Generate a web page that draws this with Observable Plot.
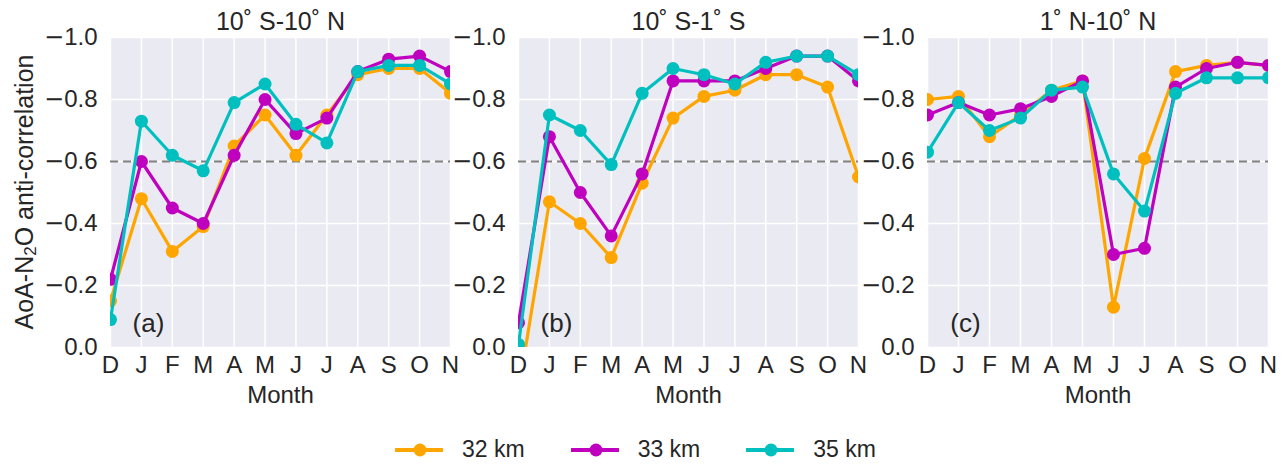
<!DOCTYPE html>
<html><head><meta charset="utf-8">
<script src="https://cdn.jsdelivr.net/npm/d3@7"></script>
<script src="https://cdn.jsdelivr.net/npm/@observablehq/plot@0.6"></script>
<style>
body{margin:0;background:#fff;font-family:"Liberation Sans",Arial,sans-serif;color:#262626}
#wrap{position:relative;width:1288px;height:464px;overflow:hidden}
.panel{position:absolute;top:0}
#legend{position:absolute;top:436px;left:395px;display:flex;align-items:center;font-size:23px;color:#262626}
#legend .item{display:flex;align-items:center;margin-right:46px}
#legend svg{margin-right:19px}
</style></head><body><div id="wrap"><div id="legend"></div></div>
<script>
const months = ["D","J","F","M","A","M","J","J","A","S","O","N"];
const seriesNames = ["32 km","33 km","35 km"];
const seriesColors = ["#FFA500","#BF00BF","#00BFBF"];
const titles = ["10˚ S-10˚ N","10˚ S-1˚ S","1˚ N-10˚ N"];
const panelTags = ["(a)","(b)","(c)"];
const yTicks = [0,-0.2,-0.4,-0.6,-0.8,-1.0];
const threshold = -0.6;

// panel (a) 10S-10N
const a32 = [-0.15,-0.48,-0.31,-0.39,-0.65,-0.75,-0.62,-0.75,-0.88,-0.90,-0.90,-0.82];
const a33 = [-0.22,-0.60,-0.45,-0.40,-0.62,-0.80,-0.69,-0.74,-0.89,-0.93,-0.94,-0.89];
const a35 = [-0.09,-0.73,-0.62,-0.57,-0.79,-0.85,-0.72,-0.66,-0.89,-0.91,-0.91,-0.85];
// panel (b) 10S-1S
const b32 = [0.14,-0.47,-0.40,-0.29,-0.53,-0.74,-0.81,-0.83,-0.88,-0.88,-0.84,-0.55];
const b33 = [-0.08,-0.68,-0.50,-0.36,-0.56,-0.86,-0.86,-0.86,-0.90,-0.94,-0.94,-0.86];
const b35 = [-0.01,-0.75,-0.70,-0.59,-0.82,-0.90,-0.88,-0.85,-0.92,-0.94,-0.94,-0.88];
// panel (c) 1N-10N
const c32 = [-0.80,-0.81,-0.68,-0.75,-0.83,-0.86,-0.13,-0.61,-0.89,-0.91,-0.92,-0.91];
const c33 = [-0.75,-0.79,-0.75,-0.77,-0.81,-0.86,-0.30,-0.32,-0.84,-0.90,-0.92,-0.91];
const c35 = [-0.63,-0.79,-0.70,-0.74,-0.83,-0.84,-0.56,-0.44,-0.82,-0.87,-0.87,-0.87];

const panelSeries = [[a32,a33,a35],[b32,b33,b35],[c32,c33,c35]];
const layout = [
  {left:0, marginLeft:110, width:460},
  {left:458, marginLeft:60, width:410},
  {left:867, marginLeft:60, width:411}
];
const font = "'Liberation Sans', Arial, sans-serif";
const wrap = document.getElementById("wrap");

panelSeries.forEach((sers, p) => {
  const L = layout[p];
  const marks = [
    Plot.frame({fill:"#EAEAF2", stroke:null}),
    Plot.gridX(d3.range(12), {stroke:"#fff", strokeOpacity:1, strokeWidth:1.5}),
    Plot.gridY(yTicks, {stroke:"#fff", strokeOpacity:1, strokeWidth:1.5}),
    Plot.ruleY([threshold], {stroke:"#808080", strokeWidth:2, strokeDasharray:"8,5"})
  ];
  sers.forEach((vals, s) => {
    const rows = vals.map((v, i) => ({m:i, v}));
    marks.push(Plot.line(rows, {x:"m", y:"v", stroke:seriesColors[s], strokeWidth:3.2, clip:true}));
    marks.push(Plot.dot(rows, {x:"m", y:"v", r:6.5, fill:seriesColors[s], stroke:null, clip:true}));
  });
  marks.push(
    Plot.axisX(d3.range(12), {tickFormat:i => months[i], tickSize:0, tickPadding:8, label:null, fontSize:24, fill:"#262626"}),
    Plot.axisY(yTicks, {tickFormat:d3.format(".1f"), tickSize:0, tickPadding:13, label:null, fontSize:24, fill:"#262626"}),
    Plot.text([titles[p]], {frameAnchor:"top", dy:-16, lineAnchor:"middle", fontSize:25, fill:"#262626"}),
    Plot.text(["Month"], {frameAnchor:"bottom", dy:48, lineAnchor:"middle", fontSize:24, fill:"#262626"}),
    Plot.text([panelTags[p]], {frameAnchor:"bottom-left", dx:38, dy:-24, textAnchor:"middle", lineAnchor:"middle", fontSize:26, fill:"#262626"})
  );
  const chart = Plot.plot({
    width:L.width, height:407,
    marginLeft:L.marginLeft, marginRight:10, marginTop:37, marginBottom:60,
    x:{domain:[0,11]},
    y:{domain:[0,-1]},
    style:{background:"transparent", fontFamily:font, fontSize:"24px", overflow:"visible"},
    marks
  });
  chart.classList.add("panel");
  chart.style.left = L.left + "px";
  // wider mathtext-like minus sign on y tick labels
  d3.select(chart).selectAll('g[aria-label="y-axis tick label"] text').each(function() {
    const txt = this.textContent;
    if (txt.startsWith("\u2212")) {
      const el = d3.select(this);
      el.text(null);
      el.append("tspan").text("\u2212").style("font-family", "'DejaVu Sans', sans-serif");
      el.append("tspan").text(txt.slice(1));
    }
  });
  if (p === 0) {
    const t = d3.select(chart).append("text")
      .attr("transform", "translate(26,192) rotate(-90)")
      .attr("text-anchor", "middle").attr("dominant-baseline", "middle")
      .attr("fill", "#262626").style("font-size", "25px").style("font-family", font);
    t.append("tspan").text("AoA-N");
    t.append("tspan").text("2").style("font-size", "17px").attr("dy", "6");
    t.append("tspan").text("O anti-correlation").attr("dy", "-6");
  }
  wrap.appendChild(chart);
});

const legend = d3.select("#legend");
seriesNames.forEach((name, s) => {
  const it = legend.append("div").attr("class", "item");
  const sv = it.append("svg").attr("width", 48).attr("height", 20);
  sv.append("line").attr("x1", 1).attr("x2", 47).attr("y1", 10).attr("y2", 10)
    .attr("stroke", seriesColors[s]).attr("stroke-width", 4).attr("stroke-linecap", "round");
  sv.append("circle").attr("cx", 25).attr("cy", 10).attr("r", 6.5).attr("fill", seriesColors[s]);
  it.append("span").text(name);
});
</script></body></html>
